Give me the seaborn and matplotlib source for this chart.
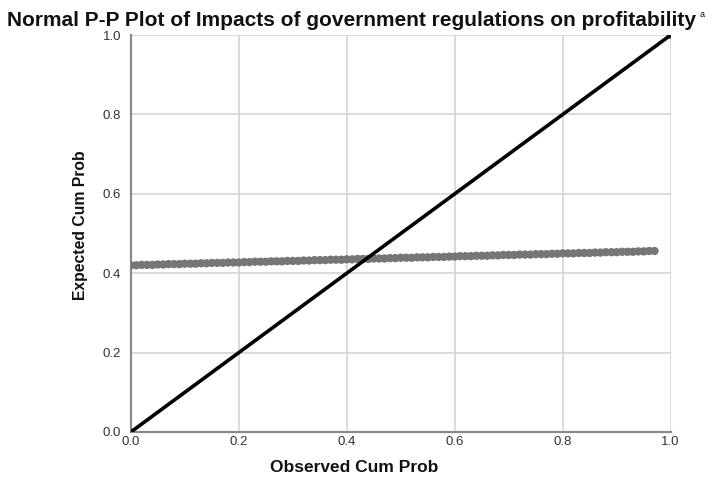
import matplotlib
matplotlib.use("Agg")
import matplotlib.pyplot as plt
import seaborn as sns
import pandas as pd

observed = [0.00, 0.01, 0.02, 0.03, 0.04, 0.05, 0.06, 0.07, 0.08, 0.09,
            0.10, 0.11, 0.12, 0.13, 0.14, 0.15, 0.16, 0.17, 0.18, 0.19,
            0.20, 0.21, 0.22, 0.23, 0.24, 0.25, 0.26, 0.27, 0.28, 0.29,
            0.30, 0.31, 0.32, 0.33, 0.34, 0.35, 0.36, 0.37, 0.38, 0.39,
            0.40, 0.41, 0.42, 0.43, 0.44, 0.45, 0.46, 0.47, 0.48, 0.49,
            0.50, 0.51, 0.52, 0.53, 0.54, 0.55, 0.56, 0.57, 0.58, 0.59,
            0.60, 0.61, 0.62, 0.63, 0.64, 0.65, 0.66, 0.67, 0.68, 0.69,
            0.70, 0.71, 0.72, 0.73, 0.74, 0.75, 0.76, 0.77, 0.78, 0.79,
            0.80, 0.81, 0.82, 0.83, 0.84, 0.85, 0.86, 0.87, 0.88, 0.89,
            0.90, 0.91, 0.92, 0.93, 0.94, 0.95, 0.96, 0.97, 1.00]
expected = [0.420, 0.420, 0.421, 0.421, 0.421, 0.422, 0.422, 0.423, 0.423, 0.423,
            0.424, 0.424, 0.424, 0.425, 0.425, 0.426, 0.426, 0.426, 0.427, 0.427,
            0.427, 0.428, 0.428, 0.429, 0.429, 0.429, 0.430, 0.430, 0.430, 0.431,
            0.431, 0.431, 0.432, 0.432, 0.433, 0.433, 0.433, 0.434, 0.434, 0.434,
            0.435, 0.435, 0.436, 0.436, 0.436, 0.437, 0.437, 0.437, 0.438, 0.438,
            0.439, 0.439, 0.439, 0.440, 0.440, 0.440, 0.441, 0.441, 0.441, 0.442,
            0.442, 0.443, 0.443, 0.443, 0.444, 0.444, 0.444, 0.445, 0.445, 0.446,
            0.446, 0.446, 0.447, 0.447, 0.447, 0.448, 0.448, 0.448, 0.449, 0.449,
            0.450, 0.450, 0.450, 0.451, 0.451, 0.451, 0.452, 0.452, 0.453, 0.453,
            0.453, 0.454, 0.454, 0.454, 0.455, 0.455, 0.456, 0.456, 1.000]
ticks = [0.0, 0.2, 0.4, 0.6, 0.8, 1.0]
tick_labels = ["0.0", "0.2", "0.4", "0.6", "0.8", "1.0"]

sns.set_style("white")
plt.rcParams["font.family"] = ["Liberation Sans", "DejaVu Sans"]

df = pd.DataFrame({"Observed Cum Prob": observed, "Expected Cum Prob": expected})

fig = plt.figure(figsize=(7.15, 4.8), dpi=100)
ax = fig.add_axes([0.183, 0.1, 0.755, 0.827])

ax.set_xlim(0, 1)
ax.set_ylim(0, 1)
ax.set_xticks(ticks)
ax.set_yticks(ticks)
ax.set_xticklabels(tick_labels)
ax.set_yticklabels(tick_labels)
ax.grid(True, color="#d4d4d4", linewidth=1.2)
ax.set_axisbelow(True)

sns.scatterplot(data=df, x="Observed Cum Prob", y="Expected Cum Prob", ax=ax,
                color="#767676", s=36, edgecolor="none", linewidth=0, zorder=3)
ax.plot([0, 1], [0, 1], color="black", linewidth=2.6, zorder=4,
        solid_capstyle="butt")

for side in ["top", "right"]:
    ax.spines[side].set_visible(False)
for side in ["left", "bottom"]:
    ax.spines[side].set_color("#8a8a8a")
    ax.spines[side].set_linewidth(1.6)

ax.tick_params(axis="both", length=0, labelsize=9.5, labelcolor="#333333")
ax.tick_params(axis="x", pad=3)
ax.tick_params(axis="y", pad=7)

ax.set_xlabel("")
ax.set_ylabel("")
fig.text(0.495, 0.027, "Observed Cum Prob", ha="center", va="center",
         fontsize=12.5, fontweight="bold", color="#111111")
fig.text(0.112, 0.53, "Expected Cum Prob", ha="center", va="center",
         rotation=90, fontsize=11.3, fontweight="bold", color="#111111")
fig.text(0.492, 0.957, "Normal P-P Plot of Impacts of government regulations on profitability",
         ha="center", va="center", fontsize=15, fontweight="bold", color="#111111")
fig.text(0.979, 0.97, "a", ha="left", va="center", fontsize=6.5, color="#111111")

fig.savefig("out.png", dpi=100)
